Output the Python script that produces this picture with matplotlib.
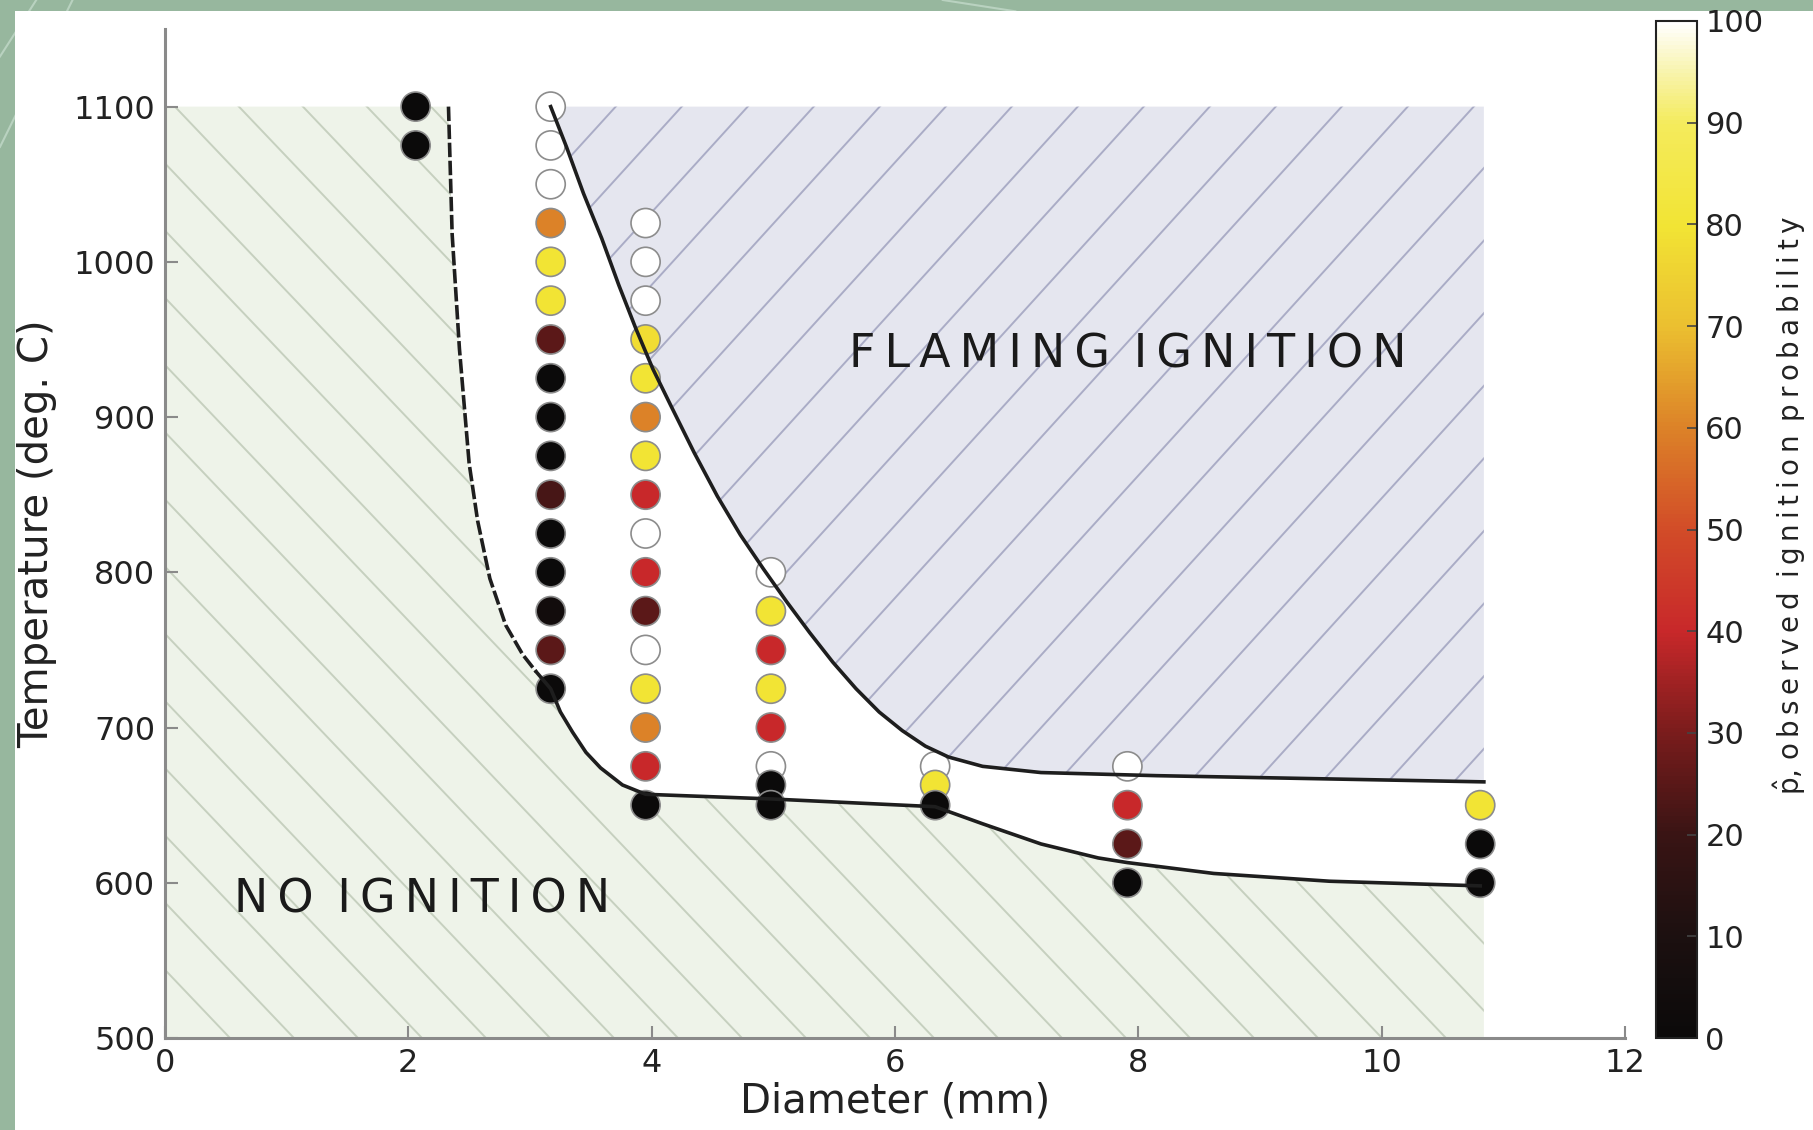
import numpy as np
import matplotlib.pyplot as plt
from matplotlib.colors import LinearSegmentedColormap
from matplotlib.patches import Polygon, Rectangle
from matplotlib.collections import LineCollection
from matplotlib.lines import Line2D

# observed ignition tests: one list per dowel diameter (mm)
d_2 = 2.06
t_2 = [1100, 1075]
p_2 = [0, 0]

d_3 = 3.17
t_3 = [1100, 1075, 1050, 1025, 1000, 975, 950, 925, 900, 875, 850, 825, 800, 775, 750, 725]
p_3 = [100, 100, 100, 60, 80, 80, 25, 0, 0, 0, 22, 0, 0, 4, 25, 0]

d_4 = 3.95
t_4 = [1025, 1000, 975, 950, 925, 900, 875, 850, 825, 800, 775, 750, 725, 700, 675, 650]
p_4 = [100, 100, 100, 78, 80, 60, 80, 40, 100, 40, 25, 100, 80, 60, 40, 0]

d_5 = 4.98
t_5 = [800, 775, 750, 725, 700, 675, 663, 650]
p_5 = [100, 80, 40, 80, 40, 100, 0, 0]

d_6 = 6.33
t_6 = [675, 663, 650]
p_6 = [100, 80, 0]

d_8 = 7.91
t_8 = [675, 650, 625, 600]
p_8 = [100, 40, 25, 0]

d_11 = 10.81
t_11 = [650, 625, 600]
p_11 = [80, 0, 0]

# fitted boundaries
upper_d = [3.17, 3.30, 3.44, 3.59, 3.73, 3.87, 4.01, 4.16, 4.35, 4.54, 4.73, 4.92,
           5.11, 5.30, 5.49, 5.68, 5.87, 6.06, 6.25, 6.44, 6.72, 7.20, 8.15, 10.84]
upper_t = [1100, 1074, 1044, 1015, 985, 957, 931, 907, 877, 849, 824, 802,
           781, 761, 742, 725, 710, 698, 688, 681, 675, 671, 669, 665]

dash_d = [2.33, 2.36, 2.42, 2.50, 2.57, 2.67, 2.80, 2.94, 3.05]
dash_t = [1100, 1018, 944, 870, 833, 796, 766, 747, 736]

lower_d = [3.05, 3.17, 3.25, 3.35, 3.46, 3.58, 3.76, 3.95, 4.98, 6.33,
           6.72, 7.20, 7.67, 7.91, 8.62, 9.57, 10.81]
lower_t = [736, 725, 710, 697, 684, 674, 663, 657, 654, 649,
           638, 625, 616, 613, 606, 601, 598]

diam = np.concatenate([[d] * len(t) for d, t in
                       [(d_2, t_2), (d_3, t_3), (d_4, t_4), (d_5, t_5), (d_6, t_6), (d_8, t_8), (d_11, t_11)]])
temp = np.concatenate([t_2, t_3, t_4, t_5, t_6, t_8, t_11])
prob = np.concatenate([p_2, p_3, p_4, p_5, p_6, p_8, p_11])

fire = LinearSegmentedColormap.from_list("fire", [
    (0.0, "#0b0a0a"), (0.1, "#1c1010"), (0.2, "#3a1414"), (0.3, "#7a1c1c"),
    (0.4, "#c8282a"), (0.5, "#d24c28"), (0.6, "#dc8228"), (0.7, "#ebbf30"),
    (0.8, "#f2e434"), (0.9, "#f4eb5c"), (0.95, "#f8f3aa"), (1.0, "#ffffff")])


def spaced(text):
    # letter-spaced caption, wider gap between words
    return " \u2009".join("\u2009".join(w) for w in text.split(" "))


fig = plt.figure(figsize=(18.13, 11.30), dpi=100, facecolor="#97b79e")

# slide frame: light arcs on the green border, white panel on top
for (x0, y0, x1, y1) in [(0.0, 0.87, 0.04, 1.0), (0.0, 0.95, 0.02, 1.0), (0.52, 1.0, 0.56, 0.99)]:
    fig.add_artist(Line2D([x0, x1], [y0, y1], transform=fig.transFigure,
                          color="#b9d2c0", lw=1.5, zorder=-2))
fig.add_artist(Rectangle((15 / 1813, 0), 1, 1 - 11 / 1130, transform=fig.transFigure,
                         facecolor="white", edgecolor="none", zorder=-1))

ax = fig.add_axes([165 / 1813, 1 - 1038 / 1130, 1460 / 1813, (1038 - 29) / 1130])
ax.set_facecolor("none")
ax.set_xlim(0, 12)
ax.set_ylim(500, 1150)

W = ax.get_position().width * 1813
H = ax.get_position().height * 1130


def hatch_region(xs, ys, face, line_color, spacing, slope, rising):
    poly = Polygon(np.column_stack([xs, ys]), closed=True, facecolor=face,
                   edgecolor="none", zorder=1)
    ax.add_patch(poly)
    run = H / slope
    segs = []
    n = int((W + run) / spacing) + 2
    for i in range(-n, n):
        x0 = i * spacing
        if rising:
            segs.append([(x0 / W, 0), ((x0 + run) / W, 1)])
        else:
            segs.append([(x0 / W, 1), ((x0 + run) / W, 0)])
    lc = LineCollection(segs, colors=line_color, linewidths=1.4,
                        transform=ax.transAxes, zorder=1.2)
    lc.set_clip_path(poly)
    ax.add_collection(lc, autolim=False)


# no-ignition zone
no_x = [0, 0] + dash_d + lower_d[1:] + [10.84, 10.84]
no_y = [500, 1100] + dash_t + lower_t[1:] + [598, 500]
hatch_region(no_x, no_y, "#eef3e9", "#c6d0bf", 64, 1.05, rising=False)

# flaming-ignition zone
fl_x = upper_d + [10.84]
fl_y = upper_t + [1100]
hatch_region(fl_x, fl_y, "#e5e6ef", "#aaacc6", 66, 1.1, rising=True)

sc = ax.scatter(diam, temp, c=prob, cmap=fire, vmin=0, vmax=100, s=440,
                edgecolors="#8c8c8c", linewidths=1.2, zorder=3)

ax.plot(dash_d, dash_t, color="#1e1e1e", lw=2.6, ls=(0, (4, 1)), zorder=4)
ax.plot(lower_d, lower_t, color="#1e1e1e", lw=2.6, zorder=4)
ax.plot(upper_d, upper_t, color="#1e1e1e", lw=2.6, zorder=4)

ax.text(7.91, 940, spaced("FLAMING IGNITION"), fontsize=33, color="#1a1a1a",
        ha="center", va="center", zorder=5)
ax.text(2.11, 589, spaced("NO IGNITION"), fontsize=33, color="#1a1a1a",
        ha="center", va="center", zorder=5)

for side in ["top", "right"]:
    ax.spines[side].set_visible(False)
for side in ["left", "bottom"]:
    ax.spines[side].set_color("#8a8a8a")
    ax.spines[side].set_linewidth(2.2)

ax.set_xticks(range(0, 13, 2))
ax.set_yticks(range(500, 1101, 100))
ax.tick_params(direction="in", length=9, width=1.5, color="#8a8a8a",
               labelsize=23, labelcolor="#222222", pad=7)
ax.set_xlabel("Diameter (mm)", fontsize=29, color="#222222", labelpad=2)
ax.set_ylabel("Temperature (deg. C)", fontsize=29, color="#222222", labelpad=12)

cax = fig.add_axes([1656 / 1813, 1 - 1038 / 1130, 41 / 1813, (1038 - 21) / 1130])
cb = fig.colorbar(sc, cax=cax)
cb.set_ticks(range(0, 101, 10))
cb.outline.set_linewidth(1.5)
cb.outline.set_edgecolor("#222222")
cax.tick_params(direction="in", length=7, width=1.2, color="#444444",
                labelsize=22, labelcolor="#222222", pad=6)

fig.text(1790 / 1813, 1 - 505 / 1130,
         r"$\hat{\mathrm{p}}$," + " " + spaced("observed ignition probability"),
         rotation=90, fontsize=20, color="#222222", ha="center", va="center")

fig.savefig("out.png", dpi=100, facecolor=fig.get_facecolor())
